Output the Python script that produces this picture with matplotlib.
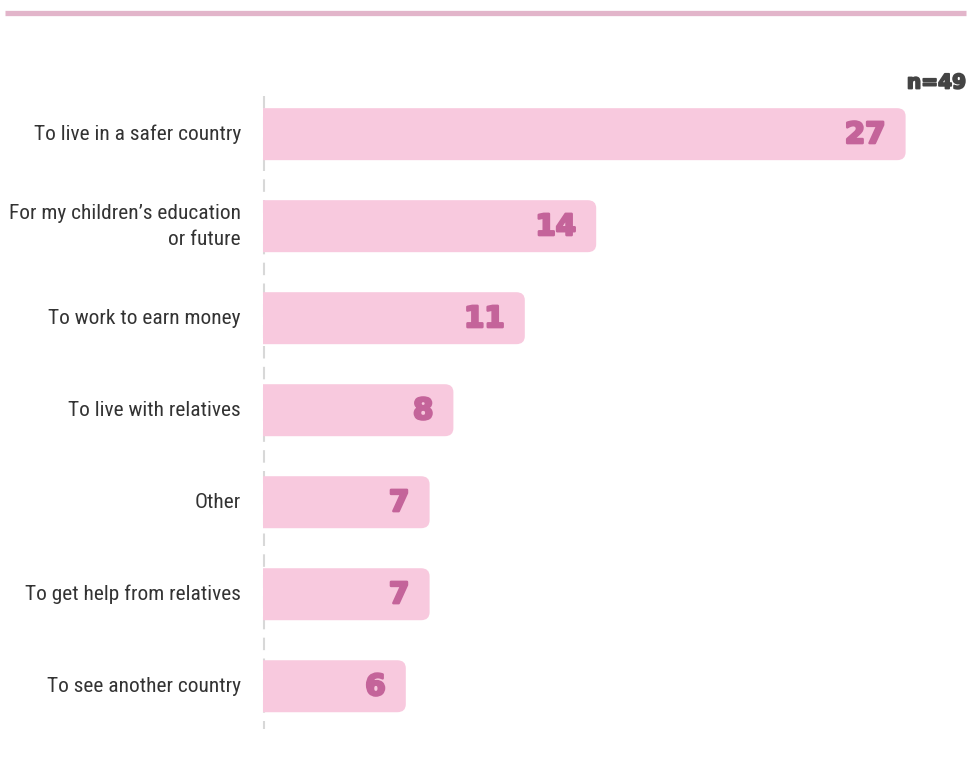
import matplotlib.pyplot as plt
from matplotlib import font_manager
from matplotlib.patches import FancyBboxPatch
from matplotlib.lines import Line2D
import matplotlib.patheffects as pe

categories = ["To live in a safer country",
              "For my children\u2019s education\nor future",
              "To work to earn money",
              "To live with relatives",
              "Other",
              "To get help from relatives",
              "To see another country"]
values = [27, 14, 11, 8, 7, 7, 6]
n_total = 49

bar_col = '#f8c9de'
num_col = '#c4649a'
txt_col = '#333333'

# narrow face for the category labels if one is installed
names = {f.name for f in font_manager.fontManager.ttflist}
lab_font, lab_size = 'Liberation Sans', 12.2
for cand in ['Liberation Sans Narrow', 'DejaVu Sans Condensed', 'Roboto Condensed',
             'Open Sans Condensed', 'Noto Sans Condensed']:
    if cand in names:
        lab_font, lab_size = cand, 15.4
        break

W, H = 971, 759
fig = plt.figure(figsize=(W / 100, H / 100), dpi=100)

# thin pink rule across the top
fig.add_artist(Line2D([5 / W, 966 / W], [1 - 12.5 / H, 1 - 12.5 / H],
                      color='#e2b5ca', lw=3.8, solid_capstyle='butt'))

ax = fig.add_axes([263 / W, 1 - 735 / H, (971 - 263) / W, 645 / H])
ax.set_xlim(0, 708 / 23.8)
ax.set_ylim(6.53, -0.48)
ax.axis('off')

heavy = [pe.withStroke(linewidth=1.8, foreground=num_col)]
bh = 0.565
r = 0.36
asp = (8 / 92) / r
for i, (cat, v) in enumerate(zip(categories, values)):
    box = FancyBboxPatch((-1, i - bh / 2), v + 1, bh,
                         boxstyle=f"round,pad=0,rounding_size={r}",
                         mutation_aspect=asp, fc=bar_col, ec='none', zorder=2)
    ax.add_patch(box)
    ax.text(v - 0.85, i + 0.01, str(v), ha='right', va='center',
            fontsize=21, fontweight='bold', family='DejaVu Sans', color=num_col,
            zorder=3, path_effects=heavy)
    ax.text(-0.93, i, cat, ha='right', va='center', fontsize=lab_size,
            family=[lab_font, 'DejaVu Sans'], color=txt_col, linespacing=1.45)

# faint dashed axis behind the bars
ax.plot([0.05, 0.05], [-0.42, 6.47], color='#d8d8d8', lw=1.5,
        ls=(0, (6, 4)), zorder=1, clip_on=False)

fig.text(966 / W, 1 - 83 / H, f"n={n_total}", ha='right', va='center',
         fontsize=14.5, fontweight='bold', family='DejaVu Sans', color='#444444',
         path_effects=[pe.withStroke(linewidth=1.3, foreground='#444444')])

fig.savefig('out.png', dpi=100)
